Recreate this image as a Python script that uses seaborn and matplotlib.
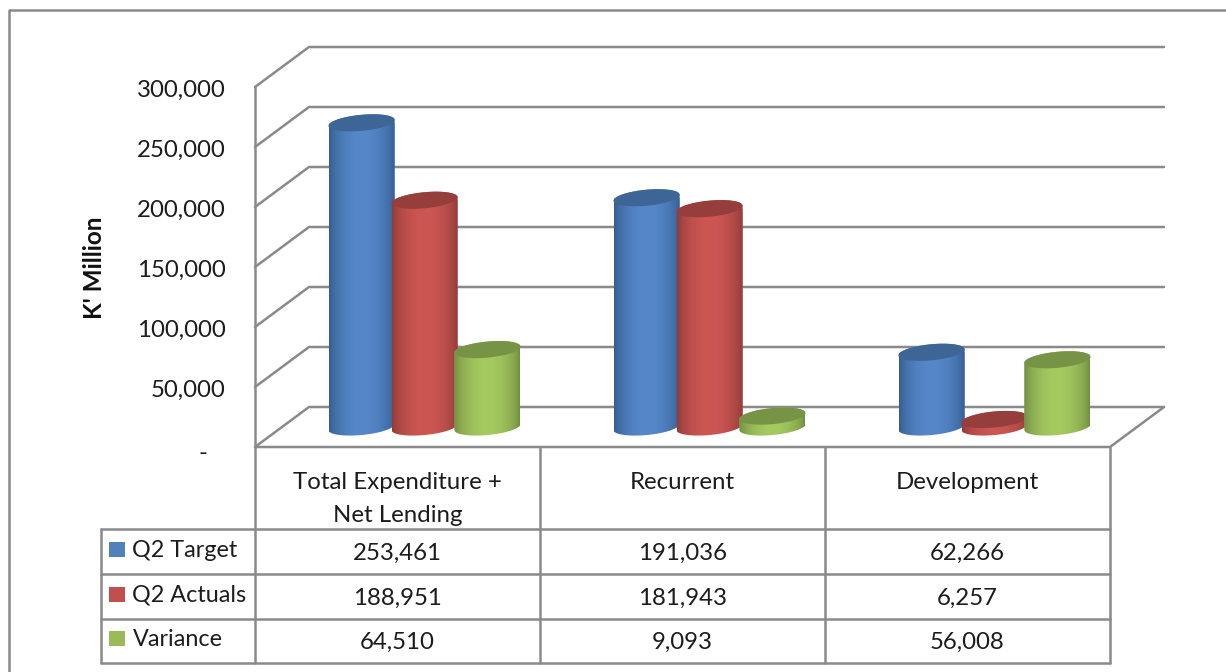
import numpy as np
import pandas as pd
import matplotlib
matplotlib.use("Agg")
import matplotlib.pyplot as plt
from matplotlib.patches import Polygon, Rectangle
from matplotlib.path import Path
from matplotlib.ticker import FuncFormatter
from matplotlib.transforms import ScaledTranslation
import seaborn as sns

categories = ["Total Expenditure +\nNet Lending", "Recurrent", "Development"]
series_names = ["Q2 Target", "Q2 Actuals", "Variance"]
q2_target = [253461, 191036, 62266]
q2_actuals = [188951, 181943, 6257]
variance = [64510, 9093, 56008]
y_ticks = [0, 50000, 100000, 150000, 200000, 250000, 300000]

W, H = 1226, 672
GREY = "#8a8a8a"
TXT = "#1c1c1c"
LW = 1.8
light = ["#5687c9", "#cd5653", "#a5ca60"]
dark = ["#335c8e", "#8c3a37", "#6f8b3f"]
caps = ["#3d6696", "#953e3b", "#779345"]
key = ["#4f81bd", "#c0504d", "#9bbb59"]

sns.set_theme(style="white")
plt.rcParams["font.family"] = ["Lato", "DejaVu Sans"]
FS = 17.3

fig = plt.figure(figsize=(W / 100, H / 100), dpi=100, facecolor="white")


def px_axes(x0, x1, y_top, y_bottom, **kw):
    return fig.add_axes([x0 / W, 1 - y_bottom / H, (x1 - x0) / W, (y_bottom - y_top) / H], **kw)


# overlay in pixel units: outer frame and data table
ov = px_axes(0, W, 0, H, zorder=0)
ov.set_xlim(0, W)
ov.set_ylim(H, 0)
ov.axis("off")
ov.plot([9, 9, W], [H, 10, 10], color=GREY, lw=LW)

col_x = [255, 540, 825, 1110]
row_y = [447, 529, 574, 618.5, 662.5]
for x in col_x:
    ov.plot([x, x], [row_y[0], row_y[-1]], color=GREY, lw=LW)
ov.plot([100.5, 100.5], [row_y[1], row_y[-1]], color=GREY, lw=LW)
for y in row_y[1:]:
    ov.plot([100.5, col_x[-1]], [y, y], color=GREY, lw=LW)
for i, cat in enumerate(categories):
    xc = (col_x[i] + col_x[i + 1]) / 2
    for j, part in enumerate(cat.split("\n")):
        ov.text(xc, 482.5 + j * 32.5, part, ha="center", va="center", fontsize=FS, color=TXT)
for r, (name, vals) in enumerate(zip(series_names, [q2_target, q2_actuals, variance])):
    yc = (row_y[r + 1] + row_y[r + 2]) / 2
    ov.add_patch(Rectangle((109, yc - 9.5), 15.5, 15, color=key[r], lw=0))
    ov.text(132.5, yc - 1, name, ha="left", va="center", fontsize=FS - 0.5, color=TXT)
    for i, v in enumerate(vals):
        ov.text((col_x[i] + col_x[i + 1]) / 2, yc + 2, f"{v:,}", ha="center", va="center",
                fontsize=FS, color=TXT)

fig.text(94 / W, 1 - 268 / H, "K' Million", rotation=90, ha="center", va="center",
         fontsize=17.5, fontweight="bold", color="#111111")

# front plane of the 3-D box: holds the value axis, walls and gridlines
ax = px_axes(255, 1110, 87, 447, zorder=1)
ax.set_xlim(-0.5, 2.5)
ax.set_ylim(0, 300000)
ax.patch.set_alpha(0)
for s in ax.spines.values():
    s.set_visible(False)
ax.set_xticks([])
ax.set_yticks(y_ticks)
ax.yaxis.set_major_formatter(FuncFormatter(lambda v, _: "-   " if v == 0 else f"{v:,.0f}"))
ax.tick_params(axis="y", length=0, pad=21, labelsize=FS, labelcolor=TXT)
for v, lab in zip(y_ticks, ax.get_yticklabels()):
    drop = 4 if v == 0 else 1.5
    lab.set_transform(lab.get_transform() + ScaledTranslation(0, -drop / 100, fig.dpi_scale_trans))

ux = 3 / 855  # data units per pixel, horizontally
uy = 300000 / 360  # data units per pixel, vertically
DX, DY = 54 * ux, 40 * uy
for v in y_ticks:
    ax.plot([-0.5, -0.5 + DX, 2.5 + DX], [v, v + DY, v + DY], color=GREY, lw=LW,
            clip_on=False, solid_joinstyle="miter")
ax.plot([-0.5, -0.5], [0, 300000], color=GREY, lw=LW, clip_on=False)
ax.plot([-0.5, 2.5, 2.5 + DX], [0, 0, DY], color=GREY, lw=LW, clip_on=False)

# bars stand half way into the box
bx = px_axes(255 + 27, 1110 + 27, 87 - 20, 447 - 20, zorder=2)
df = pd.DataFrame({
    "category": categories * 3,
    "series": np.repeat(series_names, 3),
    "value": q2_target + q2_actuals + variance,
})
sns.barplot(data=df, x="category", y="value", hue="series", order=categories,
            hue_order=series_names, palette=key, width=0.663, gap=0, errorbar=None,
            legend=False, ax=bx, saturation=1)
bx.set_xlim(-0.5, 2.5)
bx.set_ylim(0, 300000)
bx.axis("off")

A, B, TILT = 33.2, 8.0, np.deg2rad(5.5)
BAR_W = 66 * ux


def ell(cx, cy, t):
    x = (A * np.cos(t) * np.cos(TILT) - B * np.sin(t) * np.sin(TILT)) * ux
    y = (A * np.cos(t) * np.sin(TILT) + B * np.sin(t) * np.cos(TILT)) * uy
    return np.column_stack([cx + x, cy + y])


t_r = np.arctan2(-B * np.sin(TILT), A * np.cos(TILT))
lower = np.linspace(t_r + np.pi, t_r + 2 * np.pi, 60)
upper = np.linspace(t_r, t_r + np.pi, 60)
u = np.linspace(0, 1, 128)
shape = np.sin(np.pi * u) ** 0.65

for s, container in enumerate(bx.containers):
    lo = np.array(matplotlib.colors.to_rgb(dark[s]))
    hi = np.array(matplotlib.colors.to_rgb(light[s]))
    grad = (lo[None, :] + (hi - lo)[None, :] * shape[:, None])[None, :, :]
    for bar in container:
        xc = bar.get_x() + bar.get_width() / 2
        val = bar.get_height()
        bar.set_x(xc - BAR_W / 2)
        bar.set_width(BAR_W)
        bar.set_linewidth(0)
        z = 3 + s * 3
        outline = np.vstack([ell(xc, 0, lower), ell(xc, val, upper)])
        body = Path(np.vstack([outline, outline[:1]]), closed=True)
        bar.set_zorder(z)
        bar.set_clip_box(fig.bbox)
        bar.set_clip_path(body, bx.transData)
        im = bx.imshow(grad, extent=(xc - BAR_W / 2, xc + BAR_W / 2, -20 * uy, val + 20 * uy),
                       aspect="auto", zorder=z + 1, interpolation="bilinear")
        im.set_clip_box(fig.bbox)
        im.set_clip_path(body, bx.transData)
        cap = Polygon(ell(xc, val, np.linspace(0, 2 * np.pi, 120)), closed=True,
                      facecolor=caps[s], edgecolor="none", zorder=z + 2, clip_on=False)
        bx.add_patch(cap)
bx.set_xlim(-0.5, 2.5)
bx.set_ylim(0, 300000)
bx.set_aspect("auto")

fig.savefig("out.png", dpi=100, facecolor="white")
